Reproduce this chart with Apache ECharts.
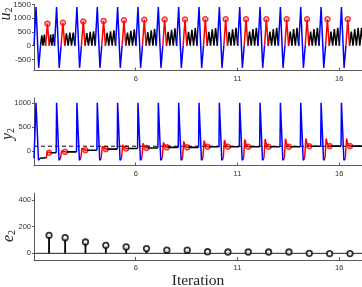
<!DOCTYPE html>
<html><head><meta charset="utf-8">
<script src="https://cdn.jsdelivr.net/npm/echarts@6/dist/echarts.min.js"></script>
<style>html,body{margin:0;padding:0;background:#fff}#c{width:362px;height:287px}</style>
</head><body><div id="c"></div>
<script>
// ---------- data ----------
const xTicks = [6, 11, 16];
const uTicks = [-500, 0, 500, 1000, 1500];
const yTicks = [0, 500, 1000];
const eTicks = [0, 200, 400];
const yNames = ['u', 'y', 'e'];

// iteration start (blue spike peak) positions
const iterT = [1.10, 2.11, 3.11, 4.11, 5.11, 6.11, 7.11, 8.11, 9.11, 10.11, 11.11, 12.11, 13.11, 14.11, 15.11, 16.11];

// u2: blue spike shape (offset from iteration start, value)
const uBlueOff = [-0.10, 0, 0.13, 0.22];
const uBlueVal = [0, 1400, -800, 0];
// u2: red pulse peaks (circle markers)
const uRedX    = [1.66, 2.42, 3.42, 4.42, 5.42, 6.42, 7.42, 8.42, 9.42, 10.42, 11.42, 12.42, 13.42, 14.42, 15.42, 16.42];
const uRedPeak = [800, 830, 880, 900, 920, 940, 950, 950, 960, 960, 960, 960, 960, 960, 960, 960];
// u2: black oscillation peaks before / after red pulse
const uBlackPre = [[380, 400], [], [], [], [], [], [], [], [], [], [], [], [], [], [], []];
const uBlackPost = [
  [400, 420], [450, 480, 480], [460, 500, 520], [470, 520, 560],
  [480, 540, 590], [490, 560, 610], [500, 580, 630], [500, 580, 640],
  [500, 590, 640], [500, 590, 650], [510, 600, 650], [510, 600, 650],
  [510, 600, 650], [510, 600, 650], [510, 600, 650], [510, 600, 650, 650]
];

// y2: circles / settled level, overshoot peaks
const yCircX  = [1.74, 2.53, 3.53, 4.53, 5.53, 6.53, 7.53, 8.53, 9.53, 10.53, 11.53, 12.53, 13.53, 14.53, 15.53, 16.53];
const yLevel  = [-35, -17, 15, 40, 52, 64, 76, 76, 88, 90, 90, 90, 90, 100, 102, 102];
const yPeak   = [-20, 5, 60, 100, 130, 160, 180, 200, 215, 230, 240, 250, 255, 260, 260, 260];
const yMid    = [-25, -10, 30, 60, 80, 100, 115, 120, 130, 135, 140, 140, 140, 145, 145, 145];
const yRedLead = [0.14, 0.23, 0.23, 0.23, 0.23, 0.23, 0.23, 0.23, 0.23, 0.23, 0.23, 0.23, 0.23, 0.23, 0.23, 0.23];
const yBlueVal = [1000, -190, -150];
const yRef = 100;

// e2 stems
const eVal = [135, 117, 85, 60, 48, 36, 24, 24, 12, 10, 10, 10, 10, 0, -2, -2];

// ---------- build series data ----------
const X0 = 1, X1 = 17.12;
const GAP = ['-', '-'];
function gap(a) { if (a.length) a.push(GAP); }
function zig(a, x0, x1, peaks) {
  gap(a);
  const n = peaks.length, w = (x1 - x0) / n;
  a.push([x0, 0]);
  peaks.forEach((p, i) => { a.push([x0 + w * (i + 0.5), p], [x0 + w * (i + 1), 0]); });
}
const uBlue = [], uRed = [], uBlack = [], uCirc = [];
const yBlue = [], yRed = [], yBlack = [], yCirc = [];
for (let k = 0; k < iterT.length; k++) {
  const t = iterT[k];
  // ---- u2
  gap(uBlue);
  uBlueOff.forEach((o, i) => uBlue.push([k === 0 && i === 0 ? X0 : t + o, uBlueVal[i]]));
  const blueEnd = t + uBlueOff[3];
  const rs = uRedX[k] - 0.09, re = uRedX[k] + 0.09;
  if (uBlackPre[k].length) zig(uBlack, blueEnd, rs, uBlackPre[k]);
  gap(uRed); uRed.push([rs, 0], [uRedX[k], uRedPeak[k]], [re, 0]);
  uCirc.push([uRedX[k], uRedPeak[k]]);
  const nxt = k < iterT.length - 1 ? iterT[k + 1] + uBlueOff[0] : X1 + 0.06;
  zig(uBlack, re, nxt, uBlackPost[k]);
  // ---- y2
  const prevL = k ? yLevel[k - 1] : -150;
  gap(yBlue);
  yBlue.push([k ? t - 0.02 : X0, prevL], [t, yBlueVal[0]], [t + 0.12, yBlueVal[1]], [t + 0.19, yBlueVal[2]]);
  const yrs = yCircX[k] - yRedLead[k];
  if (yrs > t + 0.2) { gap(yBlack); yBlack.push([t + 0.19, yBlueVal[2]], [yrs, yBlueVal[2] + 10]); }
  gap(yRed);
  yRed.push([Math.max(yrs, t + 0.19), yBlueVal[2]], [yrs + 0.06, yPeak[k]], [yrs + 0.12, yMid[k]], [yCircX[k], yLevel[k]], [yCircX[k] + 0.07, yLevel[k]]);
  yCirc.push([yCircX[k], yLevel[k]]);
  const ynxt = k < iterT.length - 1 ? iterT[k + 1] - 0.02 : X1;
  gap(yBlack); yBlack.push([yCircX[k] + 0.07, yLevel[k]], [ynxt, yLevel[k]]);
}
const eData = yCircX.map((x, i) => [x, eVal[i]]);

// ---------- chart ----------
const axisCol = '#5a5a5a';
const lblFont = 'Liberation Sans';
const grids = [
  { left: 34, right: 0, top: 4.3, height: 66.3, containLabel: false, outerBoundsMode: 'none' },
  { left: 34, right: 0, top: 98, height: 67.5, containLabel: false, outerBoundsMode: 'none' },
  { left: 34, right: 0, top: 193.3, height: 66.7, containLabel: false, outerBoundsMode: 'none' }
];
const plain = v => String(v);
function xAx(gi, name) {
  return {
    type: 'value', gridIndex: gi, min: X0, max: X1,
    axisLine: { show: true, onZero: false, lineStyle: { color: axisCol, width: 1 } },
    axisTick: { show: true, inside: true, length: 3, customValues: xTicks, lineStyle: { color: axisCol } },
    axisLabel: { customValues: xTicks, formatter: plain, fontSize: 7.5, color: '#333', margin: 4, fontFamily: lblFont, hideOverlap: false },
    splitLine: { show: false },
    name: name || '', nameLocation: 'middle', nameGap: 10,
    nameTextStyle: { fontFamily: 'Liberation Serif', fontSize: 15.5, color: '#222' }
  };
}
function yAx(gi, min, max, ticks, fs, ff) {
  return {
    type: 'value', gridIndex: gi, min: min, max: max,
    axisLine: { show: true, onZero: false, lineStyle: { color: axisCol, width: 1 } },
    axisTick: { show: true, inside: false, length: 2, customValues: ticks, lineStyle: { color: axisCol } },
    axisLabel: { customValues: ticks, formatter: plain, fontSize: fs, color: '#333', margin: 3, fontFamily: ff },
    splitLine: { show: false }
  };
}
const nameRich = {
  v: { fontFamily: 'Liberation Serif', fontStyle: 'italic', fontSize: 16, fill: '#222' },
  s: { fontFamily: 'Liberation Serif', fontSize: 10, fill: '#222', padding: [7, 0, 0, 0] }
};
const namePos = [[6, 14], [8, 134], [9, 236]];
const graphics = yNames.map((n, i) => ({
  type: 'text', x: namePos[i][0], y: namePos[i][1], rotation: Math.PI / 2,
  style: { text: '{v|' + n + '}{s|2}', rich: nameRich, align: 'center', verticalAlign: 'middle', fill: '#222' }
}));
const lineBase = { type: 'line', showSymbol: false, symbol: 'none', connectNulls: false, animation: false };
const option = {
  animation: false,
  grid: grids,
  graphic: graphics,
  xAxis: [xAx(0), xAx(1), xAx(2, 'Iteration')],
  yAxis: [
    yAx(0, -900, 1500, uTicks, 8, lblFont),
    yAx(1, -300, 1100, yTicks, 7.5, lblFont),
    yAx(2, -50, 450, eTicks, 7.5, lblFont)
  ],
  series: [
    Object.assign({}, lineBase, { name: 'u black', xAxisIndex: 0, yAxisIndex: 0, data: uBlack, lineStyle: { color: '#000', width: 1.5 } }),
    Object.assign({}, lineBase, { name: 'u red', xAxisIndex: 0, yAxisIndex: 0, data: uRed, lineStyle: { color: '#ff0000', width: 1.5 } }),
    Object.assign({}, lineBase, { name: 'u blue', xAxisIndex: 0, yAxisIndex: 0, data: uBlue, lineStyle: { color: '#0000ff', width: 1.5 } }),
    { type: 'scatter', xAxisIndex: 0, yAxisIndex: 0, data: uCirc, symbol: 'circle', symbolSize: 5, animation: false,
      itemStyle: { color: '#ffd0d0', borderColor: '#ff0000', borderWidth: 1.5 } },

    Object.assign({}, lineBase, { name: 'ref', xAxisIndex: 1, yAxisIndex: 1, data: [[X0, yRef], [X1, yRef]], lineStyle: { color: '#000', width: 1, type: [4, 3] } }),
    Object.assign({}, lineBase, { name: 'y black', xAxisIndex: 1, yAxisIndex: 1, data: yBlack, lineStyle: { color: '#000', width: 1.6 } }),
    Object.assign({}, lineBase, { name: 'y blue', xAxisIndex: 1, yAxisIndex: 1, data: yBlue, lineStyle: { color: '#0000ff', width: 1.5 } }),
    Object.assign({}, lineBase, { name: 'y red', xAxisIndex: 1, yAxisIndex: 1, data: yRed, lineStyle: { color: '#ff0000', width: 1.5 } }),
    { type: 'scatter', xAxisIndex: 1, yAxisIndex: 1, data: yCirc, symbol: 'circle', symbolSize: 5, animation: false,
      itemStyle: { color: '#ffd0d0', borderColor: '#ff0000', borderWidth: 1.5 } },

    Object.assign({}, lineBase, { name: 'base', xAxisIndex: 2, yAxisIndex: 2, data: [[X0, 0], [X1, 0]], lineStyle: { color: '#222', width: 1 } }),
    { type: 'custom', xAxisIndex: 2, yAxisIndex: 2, data: eData, animation: false,
      renderItem: function (params, api) {
        const p0 = api.coord([api.value(0), 0]);
        const p1 = api.coord([api.value(0), api.value(1)]);
        return { type: 'line', shape: { x1: p0[0], y1: p0[1], x2: p1[0], y2: p1[1] }, style: { stroke: '#000', lineWidth: 1.8 } };
      } },
    { type: 'scatter', xAxisIndex: 2, yAxisIndex: 2, data: eData, symbol: 'circle', symbolSize: 5.5, animation: false, z: 5,
      itemStyle: { color: '#fff', borderColor: '#000', borderWidth: 1.8 } }
  ]
};
const chart = echarts.init(document.getElementById('c'), null, { renderer: 'canvas' });
chart.setOption(option);
</script>
</body></html>
